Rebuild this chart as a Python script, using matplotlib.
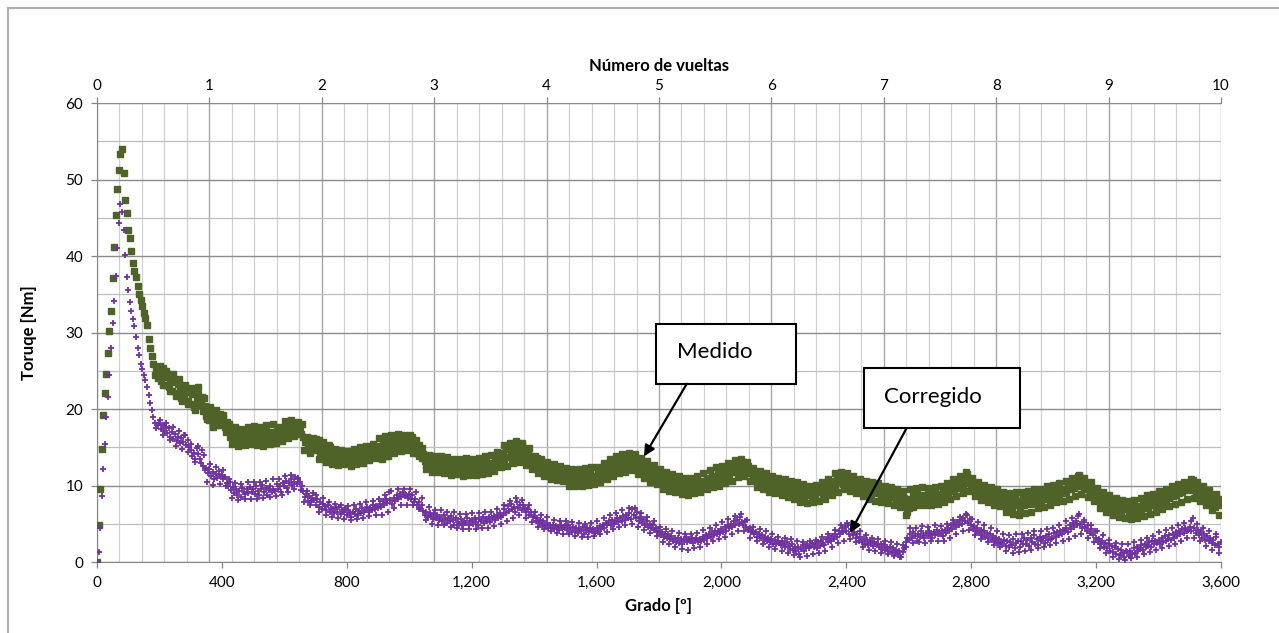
import numpy as np
import matplotlib
matplotlib.use("Agg")
import matplotlib.pyplot as plt
from matplotlib.patches import Rectangle
from matplotlib.ticker import MultipleLocator, FuncFormatter

plt.rcParams['font.family'] = ['Lato', 'DejaVu Sans']

# angle (degrees), one reading every 5 degrees from 0 to 3600
grado = np.arange(0, 3601, 5)

medido = [
    0, 4.8, 9.6, 14.8, 19.2, 22.1, 24.6, 27.3, 30.2, 32.8, 37.1, 41.2, 45.4, 48.7, 51.2, 53.3, 54.0, 50.8, 47.3, 45.6,
    43.4, 42.3, 40.7, 39.1, 38.0, 37.2, 36.1, 35.0, 34.3, 33.5, 32.6, 31.9, 31.0, 29.2, 28.0, 26.9, 25.9, 24.4, 25.3, 24.1,
    24.9, 23.7, 25.3, 24.2, 23.1, 24.6, 22.9, 23.8, 22.4, 24.0, 23.5, 22.1, 23.3, 22.6, 21.4, 22.9, 21.8, 22.7, 21.0, 22.2,
    20.6, 21.9, 20.3, 22.4, 21.2, 22.0, 20.5, 21.6, 19.8, 20.4, 19.1, 19.9, 18.6, 19.4, 18.2, 19.0, 17.9, 18.8, 18.4, 19.3,
    18.1, 18.8, 17.6, 18.3, 17.1, 16.4, 17.0, 15.8, 16.6, 15.5, 16.9, 16.1, 15.4, 16.7, 15.9, 17.1, 16.2, 15.6, 16.8, 16.0,
    16.6, 15.7, 17.2, 16.3, 15.9, 16.9, 16.1, 17.3, 15.8, 16.5, 16.2, 17.0, 15.6, 16.7, 16.4, 17.5, 16.8, 16.3, 17.4, 16.9,
    17.0, 17.8, 16.6, 17.4, 18.1, 17.3, 16.9, 17.9, 17.2, 18.3, 17.6, 18.0, 16.4, 15.7, 16.2, 15.1, 15.8, 14.9, 15.6, 15.0,
    15.4, 14.6, 15.9, 14.3, 15.1, 14.5, 13.9, 14.8, 14.1, 15.0, 13.7, 14.4, 13.8, 14.6, 13.4, 14.2, 13.3, 13.9, 14.0, 13.2,
    13.6, 12.9, 13.8, 13.1, 14.1, 13.4, 12.8, 13.7, 14.2, 13.3, 13.9, 14.4, 13.5, 14.0, 13.6, 14.5, 13.8, 14.7, 14.1, 14.9,
    14.3, 15.2, 14.0, 15.6, 14.8, 13.9, 15.4, 14.6, 16.4, 15.1, 15.8, 16.2, 14.9, 15.5, 16.0, 15.3, 16.4, 15.7, 16.1, 15.5,
    15.9, 15.2, 16.3, 14.8, 15.6, 14.2, 15.3, 14.5, 13.6, 14.1, 13.2, 12.7, 13.5, 12.9, 13.8, 12.4, 13.1, 12.6, 13.3, 12.2,
    12.9, 13.4, 12.1, 12.7, 13.0, 11.8, 12.5, 12.2, 11.7, 12.9, 12.3, 11.9, 12.6, 12.0, 11.6, 12.8, 12.4, 11.9, 12.7, 12.1,
    12.5, 11.9, 12.8, 12.2, 11.7, 12.6, 12.9, 12.0, 12.4, 13.1, 12.3, 12.7, 13.0, 12.2, 12.9, 13.5, 12.6, 13.3, 12.8, 14.0,
    14.2, 13.4, 14.8, 13.7, 15.0, 14.1, 13.5, 14.6, 13.9, 15.1, 14.4, 13.8, 15.3, 14.7, 14.0, 13.6, 14.3, 13.2, 13.9, 12.8,
    13.2, 12.6, 13.6, 12.3, 12.9, 12.0, 12.7, 11.8, 12.4, 11.5, 12.2, 11.7, 11.3, 12.0, 11.6, 11.1, 11.9, 11.4, 12.1, 11.2,
    11.6, 10.9, 11.3, 11.8, 10.7, 11.2, 10.6, 11.4, 11.0, 10.5, 11.3, 10.8, 11.5, 10.6, 11.1, 10.9, 11.7, 10.7, 11.2, 11.0,
    11.3, 11.9, 11.0, 12.3, 11.6, 12.5, 11.8, 12.2, 13.0, 11.9, 12.6, 12.1, 13.2, 12.4, 11.8, 12.8, 13.4, 12.3, 13.1, 12.7,
    13.5, 12.6, 13.9, 13.2, 14.0, 12.9, 13.6, 12.4, 13.1, 12.0, 12.8, 11.9, 12.5, 11.7, 12.2, 11.3, 11.9, 11.1, 11.6, 10.9,
    11.3, 10.5, 11.0, 10.2, 10.9, 11.4, 10.4, 10.8, 9.9, 10.6, 10.1, 10.7, 9.8, 10.4, 10.0, 9.6, 10.3, 9.7, 10.2, 9.5,
    10.1, 9.6, 10.4, 9.8, 10.2, 9.7, 10.5, 9.9, 10.0, 10.6, 10.3, 11.0, 10.2, 10.8, 11.3, 10.5, 11.1, 10.7, 11.6, 10.9,
    11.5, 10.9, 11.8, 11.2, 12.1, 11.4, 12.4, 11.7, 12.0, 12.6, 11.8, 12.9, 13.2, 12.2, 12.7, 13.0, 11.9, 12.5, 11.6, 12.1,
    11.0, 11.6, 10.7, 11.2, 10.5, 11.1, 10.3, 10.8, 10.1, 10.6, 9.9, 10.4, 10.9, 10.0, 9.6, 10.5, 9.8, 10.2, 9.5, 10.1,
    9.6, 10.2, 9.3, 9.9, 9.0, 9.7, 9.2, 8.8, 9.5, 8.6, 9.3, 8.9, 9.6, 8.5, 9.1, 8.7, 9.4, 9.0, 8.6, 9.3,
    8.9, 9.5, 9.1, 9.8, 9.3, 8.8, 9.6, 9.2, 10.0, 9.4, 10.3, 9.7, 10.6, 10.1, 11.2, 10.4, 10.8, 11.5, 10.2, 10.9,
    10.5, 11.0, 10.1, 10.7, 9.9, 10.4, 9.7, 10.2, 9.5, 10.0, 9.8, 9.3, 9.9, 9.1, 9.6, 9.4, 8.9, 9.7, 9.2, 9.5,
    9.0, 9.6, 8.8, 9.3, 8.6, 9.1, 8.9, 8.4, 9.2, 8.7, 8.5, 9.0, 8.3, 8.8, 8.1, 8.6, 7.9, 8.4, 7.3, 6.5,
    7.0, 8.3, 7.8, 8.7, 8.1, 8.9, 8.4, 7.9, 8.6, 8.2, 8.8, 8.0, 8.5, 9.0, 8.3, 8.7, 8.1, 8.9, 8.4, 8.6,
    8.9, 8.5, 9.2, 8.7, 9.4, 9.0, 9.6, 9.3, 9.9, 9.5, 10.1, 9.7, 10.4, 9.9, 10.6, 10.0, 10.8, 11.5, 10.3, 10.9,
    10.2, 9.5, 10.0, 9.3, 9.7, 9.0, 9.4, 8.7, 9.2, 8.9, 8.5, 9.1, 8.6, 9.3, 8.4, 8.8, 8.1, 8.6, 7.9, 8.4,
    8.1, 7.6, 8.4, 7.3, 7.9, 8.2, 7.1, 7.7, 8.3, 7.5, 8.0, 6.9, 7.8, 8.5, 7.4, 8.1, 7.7, 8.6, 7.6, 8.2,
    8.0, 8.6, 7.7, 8.4, 8.9, 8.1, 8.7, 8.3, 9.0, 8.5, 8.8, 9.2, 8.4, 9.1, 8.7, 9.4, 8.9, 9.6, 9.0, 9.3,
    9.5, 9.1, 9.8, 10.3, 9.6, 10.1, 9.7, 10.6, 10.2, 11.4, 10.0, 10.7, 9.8, 10.4, 9.5, 9.9, 9.2, 9.6, 8.9, 9.4,
    8.8, 8.3, 9.2, 8.0, 8.6, 7.7, 8.4, 7.5, 8.1, 7.3, 7.9, 6.9, 7.6, 7.2, 6.8, 7.5, 6.6, 7.3, 6.9, 7.0,
    7.2, 6.4, 6.9, 6.1, 7.4, 6.7, 7.1, 6.5, 7.3, 6.9, 7.6, 7.0, 7.8, 7.2, 8.0, 7.4, 7.7, 8.1, 7.5, 8.3,
    8.0, 8.6, 7.8, 8.4, 8.9, 8.2, 8.7, 8.4, 9.1, 8.6, 9.3, 8.8, 9.5, 9.0, 9.7, 9.2, 9.9, 9.4, 10.1, 9.6,
    10.0, 9.4, 10.7, 9.7, 9.2, 9.8, 8.9, 9.5, 8.6, 9.1, 8.3, 8.8, 7.9, 8.6, 7.6, 8.3, 7.2, 8.0, 7.5, 8.2,
    7.6,
]

# Corregido (corrected torque, Nm)
corregido = [
    0, 1.3, 4.5, 8.6, 12.1, 15.4, 19.0, 21.6, 24.5, 28.0, 31.2, 34.1, 37.4, 41.0, 44.3, 46.8, 45.7, 43.4, 40.1, 37.2,
    35.6, 34.0, 32.8, 31.8, 30.8, 29.4, 28.0, 27.0, 25.9, 25.2, 24.4, 23.8, 22.9, 21.8, 20.8, 19.9, 18.9, 18.2, 17.5, 17.9,
    18.2, 17.4, 17.9, 17.1, 17.7, 16.8, 17.5, 16.3, 17.0, 16.1, 16.7, 15.8, 16.4, 15.5, 16.2, 15.7, 16.6, 15.3, 15.9, 15.0,
    14.6, 13.8, 14.3, 13.5, 14.9, 14.1, 13.4, 14.7, 12.6, 12.0, 12.3, 11.6, 12.1, 11.2, 11.8, 10.9, 11.5, 11.0, 11.9, 11.3,
    11.4, 10.8, 11.1, 10.3, 9.9, 10.5, 9.4, 9.8, 9.0, 9.6, 8.7, 9.3, 8.5, 9.7, 9.1, 8.9, 9.5, 9.0, 9.8, 9.2,
    9.6, 8.9, 9.9, 9.3, 8.7, 9.5, 10.1, 9.2, 9.7, 8.8, 9.4, 10.0, 9.1, 9.6, 9.3, 10.2, 9.5, 9.9, 9.2, 10.3,
    10.0, 10.6, 9.7, 10.3, 10.9, 10.1, 10.5, 11.1, 10.2, 10.8, 10.4, 9.9, 9.3, 8.5, 8.9, 8.0, 8.6, 7.8, 8.4, 8.1,
    7.5, 8.3, 7.2, 7.9, 6.9, 7.6, 7.3, 6.8, 7.4, 6.5, 7.1, 6.9, 6.4, 7.0, 6.6, 7.2, 6.3, 6.8, 6.5, 7.0,
    6.2, 6.8, 6.4, 5.9, 6.6, 6.3, 6.9, 6.1, 6.7, 6.4, 7.0, 6.5, 6.8, 7.2, 6.6, 7.1, 6.8, 7.4, 6.9, 7.3,
    7.0, 7.6, 7.2, 8.0, 7.4, 8.3, 7.7, 9.2, 8.1, 7.6, 8.4, 8.0, 8.7, 8.3, 8.9, 8.5, 9.1, 8.6, 8.8, 8.4,
    8.9, 8.3, 8.7, 7.9, 8.2, 7.5, 7.8, 7.0, 7.4, 6.7, 6.2, 6.6, 5.9, 6.4, 6.0, 5.6, 6.3, 5.8, 6.1, 5.5,
    5.9, 5.4, 6.2, 5.6, 5.1, 5.8, 5.3, 6.0, 5.5, 4.9, 5.7, 5.2, 5.0, 5.6, 4.8, 5.4, 5.1, 5.7, 4.9, 5.3,
    5.5, 5.0, 5.7, 5.2, 4.8, 5.6, 5.3, 5.9, 5.1, 5.6, 5.4, 5.9, 5.2, 5.7, 6.0, 5.5, 6.1, 5.7, 6.4, 5.9,
    6.2, 6.9, 6.4, 7.3, 6.7, 7.6, 6.9, 7.2, 6.6, 7.8, 7.1, 7.5, 6.8, 7.4, 7.0, 6.5, 6.9, 6.2, 6.6, 5.9,
    6.0, 5.4, 5.8, 5.1, 5.5, 4.9, 5.3, 4.7, 5.1, 4.5, 4.9, 4.4, 4.8, 4.3, 4.7, 4.6, 4.2, 4.8, 4.4, 4.6,
    4.7, 4.2, 4.9, 4.4, 3.9, 4.6, 4.1, 4.5, 3.8, 4.3, 4.0, 4.6, 3.7, 4.2, 4.4, 3.9, 4.5, 4.1, 4.3, 3.8,
    4.4, 4.1, 4.7, 4.3, 4.9, 4.5, 5.1, 4.8, 5.3, 4.9, 5.5, 5.0, 5.4, 5.8, 5.2, 5.7, 5.4, 6.0, 5.5, 6.2,
    5.8, 6.4, 5.6, 6.9, 6.2, 5.7, 6.5, 5.4, 5.9, 5.1, 5.6, 4.9, 5.3, 4.6, 5.0, 4.5, 4.8, 4.2, 4.5, 3.9,
    4.0, 3.5, 3.9, 3.3, 3.7, 3.1, 3.6, 3.0, 3.4, 2.8, 3.2, 2.6, 3.1, 2.5, 3.0, 2.4, 2.9, 3.3, 2.6, 3.0,
    2.7, 3.1, 2.5, 2.9, 3.2, 2.6, 3.0, 2.8, 3.3, 2.9, 3.5, 3.1, 3.7, 3.3, 3.9, 3.5, 4.1, 3.6, 4.0, 3.8,
    4.3, 3.9, 4.6, 4.1, 4.8, 4.4, 5.0, 4.6, 5.3, 4.8, 5.5, 5.0, 5.9, 5.2, 4.8, 5.4, 4.6, 4.2, 4.5, 3.9,
    4.0, 3.6, 3.9, 3.3, 3.7, 3.1, 3.5, 2.9, 3.3, 2.7, 3.2, 2.6, 3.0, 2.4, 2.9, 2.3, 2.8, 2.5, 2.2, 2.7,
    2.4, 1.9, 2.6, 2.1, 1.7, 2.3, 1.6, 2.0, 1.4, 1.9, 1.1, 1.7, 2.2, 1.5, 1.9, 2.4, 1.8, 2.1, 2.5, 2.0,
    2.3, 1.8, 2.6, 2.1, 2.8, 2.4, 2.2, 3.0, 2.6, 3.2, 2.7, 3.4, 3.0, 3.7, 3.3, 4.1, 3.6, 4.4, 3.9, 4.6,
    4.1, 4.8, 3.7, 4.3, 3.5, 3.9, 3.1, 3.6, 2.8, 3.3, 2.6, 3.0, 2.4, 2.9, 2.2, 2.7, 2.5, 2.1, 2.6, 2.3,
    2.4, 1.9, 2.3, 1.7, 2.2, 1.6, 2.0, 1.5, 1.9, 1.3, 1.8, 1.2, 1.6, 1.0, 1.4, 0.7, 1.3, 1.8, 2.6, 3.1,
    2.9, 3.6, 3.2, 3.9, 3.4, 2.8, 3.7, 3.3, 4.0, 3.5, 3.1, 3.8, 3.4, 4.1, 3.6, 3.2, 3.9, 3.5, 4.2, 3.7,
    3.6, 4.0, 3.4, 4.2, 3.8, 4.5, 4.1, 4.8, 4.3, 5.0, 4.6, 5.2, 4.8, 5.5, 5.0, 5.8, 5.3, 6.2, 5.1, 5.6,
    4.9, 4.3, 4.7, 4.0, 4.5, 3.8, 4.2, 3.5, 4.0, 3.3, 3.8, 3.1, 3.6, 2.9, 3.4, 2.7, 3.2, 2.5, 3.0, 2.6,
    2.3, 2.9, 2.1, 2.7, 1.9, 2.6, 2.2, 3.0, 1.8, 2.5, 2.8, 2.0, 2.7, 2.3, 3.1, 2.4, 2.9, 2.1, 3.2, 2.6,
    3.5, 2.4, 3.0, 2.2, 3.3, 2.7, 3.1, 2.5, 3.4, 2.9, 3.6, 3.0, 3.2, 3.8, 3.3, 3.9, 3.5, 4.1, 3.6, 4.2,
    4.0, 4.5, 3.9, 4.8, 4.3, 5.1, 4.6, 5.4, 4.9, 6.3, 5.0, 4.4, 5.2, 4.6, 4.1, 4.8, 3.8, 4.3, 3.5, 4.0,
    3.2, 2.6, 3.0, 2.3, 2.8, 2.0, 2.5, 1.8, 2.3, 1.5, 2.1, 1.3, 1.9, 1.1, 1.7, 0.9, 1.6, 1.2, 0.6, 1.4,
    1.3, 0.8, 1.5, 1.0, 1.8, 1.2, 2.0, 1.4, 1.7, 2.2, 1.6, 2.4, 1.9, 2.1, 2.6, 2.0, 2.8, 2.3, 2.7, 2.5,
    2.9, 2.4, 3.2, 2.6, 3.4, 2.8, 3.0, 3.5, 2.9, 3.7, 3.2, 3.9, 3.4, 4.1, 3.6, 4.3, 3.8, 4.5, 4.0, 4.2,
    4.6, 4.0, 5.7, 4.4, 3.8, 4.2, 3.5, 3.9, 3.2, 3.6, 2.9, 3.4, 2.7, 3.1, 2.5, 2.9, 2.2, 3.3, 2.4, 2.0,
    2.6,
]

# extra readings in between (edges of the scatter cloud), every 10 degrees from 202.5
grado_b = np.arange(202.5, 3600, 10)

medido_b = [
    25.6, 23.2, 25.0, 22.4, 24.6, 21.7, 23.9, 21.1, 23.2, 20.6,
    22.8, 19.9, 22.9, 20.6, 21.5, 18.7, 20.3, 17.6, 19.9, 17.9,
    19.2, 17.0, 18.0, 15.4, 17.6, 15.2, 17.4, 15.3, 17.7, 15.4,
    17.8, 15.3, 17.6, 15.2, 17.9, 15.4, 18.0, 15.5, 17.7, 15.8,
    18.4, 16.2, 18.6, 16.5, 18.2, 16.7, 14.6, 16.3, 14.3, 16.2,
    16.1, 13.5, 15.7, 13.1, 15.3, 12.8, 14.8, 12.7, 14.7, 12.8,
    14.5, 12.6, 14.8, 12.9, 15.0, 13.0, 15.2, 13.3, 15.4, 13.6,
    16.2, 13.5, 16.5, 13.8, 16.6, 14.2, 16.7, 14.5, 16.6, 14.6,
    16.6, 14.3, 16.0, 13.8, 14.9, 12.2, 14.0, 11.8, 13.9, 11.7,
    13.9, 11.6, 13.7, 11.4, 13.5, 11.5, 13.4, 11.3, 13.6, 11.4,
    13.5, 11.4, 13.6, 11.5, 13.8, 11.6, 14.0, 11.9, 14.4, 12.4,
    15.3, 12.6, 15.6, 12.9, 15.8, 13.1, 15.5, 12.7, 14.9, 12.2,
    13.9, 11.6, 13.5, 11.2, 13.1, 10.9, 12.8, 10.7, 12.6, 10.6,
    12.3, 10.0, 12.1, 9.9, 12.2, 10.0, 12.3, 10.1, 12.4, 10.2,
    12.4, 10.5, 13.0, 10.9, 13.5, 11.3, 13.8, 11.6, 14.1, 11.8,
    14.3, 12.0, 14.1, 11.5, 13.6, 11.0, 13.2, 10.5, 12.7, 10.2,
    12.1, 9.6, 11.8, 9.3, 11.5, 9.1, 11.2, 8.9, 11.0, 8.8,
    11.0, 9.0, 11.2, 9.2, 11.6, 9.5, 12.0, 9.8, 12.4, 10.0,
    12.6, 10.3, 12.9, 10.6, 13.3, 11.1, 13.5, 11.2, 13.1, 10.6,
    12.3, 9.8, 11.9, 9.5, 11.6, 9.2, 11.3, 9.0, 11.0, 8.8,
    10.9, 8.5, 10.6, 8.2, 10.4, 7.9, 10.2, 7.7, 10.0, 7.8,
    10.1, 8.0, 10.4, 8.3, 10.8, 8.8, 11.6, 9.2, 11.8, 9.5,
    11.6, 9.3, 11.3, 9.0, 10.9, 8.6, 10.6, 8.2, 10.5, 8.0,
    10.3, 7.9, 10.0, 7.7, 9.8, 7.4, 9.6, 7.2, 9.3, 6.2,
    9.6, 7.2, 9.7, 7.4, 9.8, 7.5, 9.7, 7.4, 9.8, 7.6,
    10.0, 7.8, 10.3, 8.2, 10.8, 8.6, 11.2, 9.0, 11.7, 9.3,
    11.0, 8.6, 10.5, 8.1, 10.1, 7.8, 9.8, 7.5, 9.5, 7.3,
    9.2, 6.6, 9.0, 6.3, 9.1, 6.2, 9.2, 6.4, 9.3, 6.6,
    9.5, 7.0, 9.6, 7.2, 9.9, 7.5, 10.1, 7.8, 10.3, 8.0,
    10.6, 8.3, 11.0, 8.6, 11.3, 8.9, 11.0, 8.5, 10.4, 8.0,
    9.7, 7.0, 9.2, 6.6, 8.8, 6.2, 8.4, 5.9, 8.1, 5.7,
    8.0, 5.6, 8.1, 5.7, 8.4, 6.0, 8.7, 6.3, 8.9, 6.6,
    9.3, 6.9, 9.6, 7.3, 9.9, 7.6, 10.2, 7.9, 10.4, 8.3,
    10.8, 8.4, 10.4, 8.0, 9.9, 7.4, 9.4, 6.8, 8.9, 6.2,
]

corregido_b = [
    18.6, 16.6, 18.2, 16.0, 17.6, 15.2, 17.1, 14.8, 16.6, 14.4,
    15.4, 13.1, 15.1, 12.9, 14.0, 10.4, 12.8, 10.1, 12.4, 10.2,
    12.0, 10.0, 10.9, 8.4, 10.3, 8.1, 10.2, 8.2, 10.4, 8.3,
    10.4, 8.3, 10.5, 8.4, 10.6, 8.5, 10.8, 8.6, 10.9, 8.8,
    11.2, 9.2, 11.4, 9.5, 11.0, 9.4, 7.9, 9.3, 7.5, 9.0,
    8.8, 6.6, 8.4, 6.2, 7.9, 5.9, 7.6, 5.7, 7.5, 5.6,
    7.3, 5.5, 7.5, 5.6, 7.6, 5.8, 7.8, 6.0, 8.0, 6.2,
    8.2, 6.2, 8.7, 6.6, 9.3, 7.0, 9.5, 7.4, 9.6, 7.5,
    9.5, 7.4, 9.2, 6.9, 8.4, 5.5, 7.2, 5.0, 6.8, 4.8,
    6.8, 4.8, 6.6, 4.6, 6.5, 4.5, 6.3, 4.3, 6.3, 4.3,
    6.4, 4.3, 6.4, 4.4, 6.5, 4.5, 6.6, 4.7, 6.9, 5.0,
    7.5, 5.4, 8.0, 5.8, 8.4, 6.1, 8.1, 5.8, 7.4, 5.2,
    6.6, 4.6, 6.2, 4.3, 5.9, 4.0, 5.5, 3.8, 5.3, 3.7,
    5.4, 3.6, 5.2, 3.4, 5.1, 3.3, 5.0, 3.3, 5.1, 3.4,
    5.3, 3.6, 5.7, 3.9, 6.1, 4.3, 6.4, 4.6, 6.8, 4.9,
    7.1, 5.0, 7.0, 4.6, 6.4, 4.2, 5.9, 3.8, 5.4, 3.4,
    4.6, 2.6, 4.3, 2.3, 4.0, 2.0, 3.8, 1.7, 3.7, 1.6,
    3.6, 1.8, 3.8, 2.0, 4.2, 2.4, 4.5, 2.7, 4.9, 3.0,
    5.2, 3.3, 5.6, 3.6, 6.0, 4.0, 6.3, 4.0, 5.5, 3.2,
    4.6, 2.7, 4.3, 2.3, 4.0, 2.0, 3.6, 1.7, 3.3, 1.4,
    3.2, 1.2, 3.0, 0.9, 2.8, 0.7, 2.6, 0.8, 2.7, 1.0,
    2.9, 1.2, 3.3, 1.5, 3.7, 2.0, 4.2, 2.5, 4.8, 2.8,
    5.1, 3.0, 4.6, 2.6, 4.0, 2.0, 3.5, 1.6, 3.2, 1.4,
    3.0, 1.2, 2.8, 1.0, 2.6, 0.8, 2.4, 0.6, 2.2, 1.9,
    4.4, 2.5, 4.5, 2.6, 4.7, 2.5, 4.6, 2.7, 4.8, 2.8,
    4.7, 2.8, 5.0, 3.2, 5.5, 3.6, 5.9, 4.0, 6.3, 4.2,
    5.6, 3.5, 5.2, 3.0, 4.8, 2.6, 4.4, 2.2, 4.0, 1.9,
    3.6, 1.4, 3.5, 1.2, 3.6, 1.3, 3.7, 1.5, 3.8, 1.6,
    4.0, 1.8, 4.1, 1.9, 4.3, 2.2, 4.5, 2.5, 4.8, 2.8,
    5.3, 3.0, 5.7, 3.4, 6.0, 3.6, 5.5, 3.1, 4.9, 2.6,
    4.0, 1.8, 3.5, 1.2, 2.9, 0.7, 2.5, 0.4, 2.3, 0.3,
    2.4, 0.5, 2.6, 0.7, 2.9, 1.0, 3.2, 1.3, 3.4, 1.6,
    3.9, 1.8, 4.2, 2.1, 4.5, 2.4, 4.8, 2.8, 5.1, 3.1,
    5.4, 3.2, 5.0, 2.7, 4.5, 2.1, 4.1, 1.6, 3.7, 1.2,
]

vueltas_max = 10
ticks_grado = np.arange(0, 3601, 400)

# callout labels: (text, box x0, box x1, box y0, box y1, text x, text y, arrow start, arrow tip)
callouts = [
    ("Medido", 1790, 2239, 23.3, 31.1, 1858, 27.4, (1889, 23.3), (1752, 13.8)),
    ("Corregido", 2458, 2956, 17.5, 25.3, 2522, 21.6, (2593, 17.5), (2412, 3.8)),
]

verde = "#4F6228"
morado = "#7030A0"

fig = plt.figure(figsize=(12.79, 6.33), dpi=100)
fig.patches.append(Rectangle((0.0059, -0.1), 1.2, 1.0878, transform=fig.transFigure,
                             fill=False, edgecolor="#B0B0B0", lw=1.6))

ax = fig.add_axes([0.07584, 0.11216, 0.87881, 0.72512])
ax2 = ax.twiny()
ax2.set_zorder(ax.get_zorder() - 1)
ax.patch.set_visible(False)
ax2.patch.set_facecolor("white")

# grid del eje superior (vueltas) detras de todo
ax2.set_xlim(0, vueltas_max)
ax2.xaxis.set_major_locator(MultipleLocator(1))
ax2.xaxis.set_minor_locator(MultipleLocator(0.2))
ax2.grid(which="major", axis="x", color="#A6A6A6", lw=1.0)
ax2.grid(which="minor", axis="x", color="#D0D0D0", lw=0.9)
ax2.tick_params(axis="x", which="major", direction="out", length=4, width=0.9,
                color="#868686", labelsize=11, pad=3)
ax2.tick_params(axis="x", which="minor", length=0)
ax2.set_xlabel("Número de vueltas", fontsize=12, fontweight="bold", labelpad=6)
ax2.set_yticks([])
for s in ["left", "right", "bottom"]:
    ax2.spines[s].set_visible(False)
ax2.spines["top"].set_color("#868686")

for xs, ys in [(grado, medido), (grado_b, medido_b)]:
    ax.plot(xs, ys, ls="none", marker="s", ms=4.4, color=verde, mec=verde, zorder=3)
for xs, ys in [(grado, corregido), (grado_b, corregido_b)]:
    ax.plot(xs, ys, ls="none", marker="+", ms=3.8, mew=1.3, color=morado, zorder=3)

ax.set_xlim(0, 3600)
ax.set_ylim(0, 60)
ax.set_xticks(ticks_grado)
ax.xaxis.set_major_formatter(FuncFormatter(lambda v, p: f"{int(v):,}"))
ax.yaxis.set_major_locator(MultipleLocator(10))
ax.yaxis.set_minor_locator(MultipleLocator(5))
ax.grid(which="major", axis="y", color="#8C8C8C", lw=1.0)
ax.grid(which="minor", axis="y", color="#BEBEBE", lw=0.9)
ax.set_axisbelow(True)
ax.tick_params(axis="both", which="major", direction="out", length=4, width=0.9,
               color="#868686", labelsize=11)
ax.tick_params(axis="x", pad=6)
ax.tick_params(axis="y", pad=6)
ax.tick_params(which="minor", length=0)
for s in ["top", "right"]:
    ax.spines[s].set_visible(False)
for s in ["left", "bottom"]:
    ax.spines[s].set_color("#868686")

ax.set_xlabel("Grado [º]", fontsize=12, fontweight="bold")
ax.xaxis.set_label_coords(0.5, -0.078)
ax.set_ylabel("Toruqe [Nm]", fontsize=12, fontweight="bold")
ax.yaxis.set_label_coords(-0.053, 0.5)

for texto, x0, x1, y0, y1, tx, ty, ini, fin in callouts:
    ax.add_patch(Rectangle((x0, y0), x1 - x0, y1 - y0, facecolor="white",
                           edgecolor="black", lw=1.5, zorder=5))
    ax.text(tx, ty, texto, fontsize=16, ha="left", va="center", zorder=6)
    ax.annotate("", xy=fin, xytext=ini, zorder=6,
                arrowprops=dict(arrowstyle="-|>", color="black", lw=1.6,
                                mutation_scale=16, shrinkA=0, shrinkB=0))

fig.savefig("out.png", dpi=100)
